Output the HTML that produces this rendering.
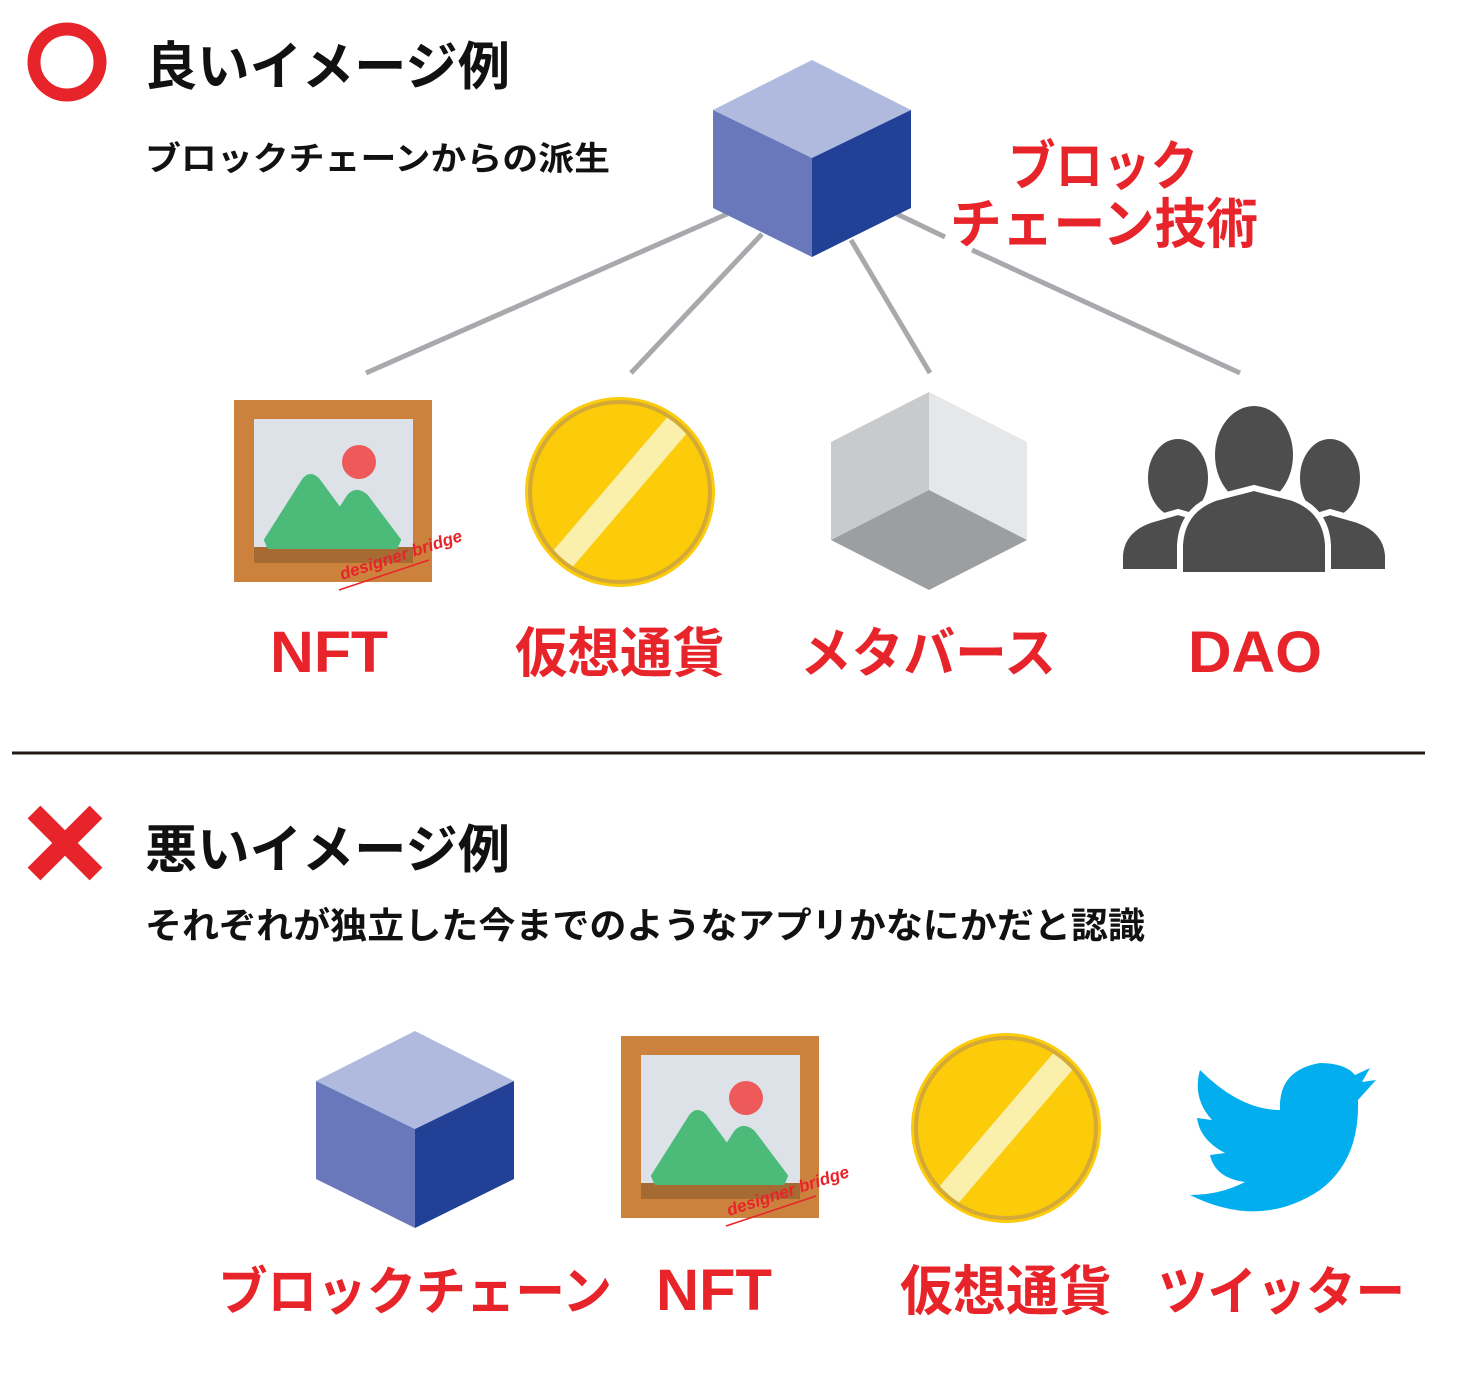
<!DOCTYPE html>
<html><head><meta charset="utf-8"><style>
html,body{margin:0;padding:0;background:#fff}
svg{display:block}
text{font-family:"Liberation Sans","Noto Sans CJK JP",sans-serif;font-weight:bold}
</style></head><body>
<svg width="1472" height="1388" viewBox="0 0 1472 1388" xmlns="http://www.w3.org/2000/svg">
<defs>
<g id="cube">
<polygon points="0,0 -99,50 0,98 99,50" fill="#b0bade"/>
<polygon points="-99,50 0,98 0,197 -99,148" fill="#6878bb"/>
<polygon points="99,50 0,98 0,197 99,148" fill="#224196"/>
</g>
<g id="frame">
<rect x="0" y="0" width="198" height="182" fill="#cc813c"/>
<rect x="20" y="19" width="159" height="129" fill="#dde2e8"/>
<rect x="20" y="147" width="159" height="16" fill="#a56b33"/>
<circle cx="125" cy="62" r="17" fill="#ee5a5a"/>
<path d="M35,147 L32,140 L70,80 Q76,72 84,80 L106,110 L115,96 Q122,88 132,96 L165,140 L162,147 Z" fill="#4cbb7a" stroke="#4cbb7a" stroke-width="4" stroke-linejoin="round"/>
<text x="108" y="180" font-size="17" fill="#e8242b" font-style="italic" font-weight="normal" font-family="Liberation Serif,serif" transform="rotate(-18 108 180)">designer bridge</text>
<line x1="105" y1="190" x2="195" y2="160" stroke="#e8242b" stroke-width="1.5"/>
</g>
<g id="coin">
<circle cx="0" cy="0" r="95" fill="#fccb0a"/>
<clipPath id="cc"><circle cx="0" cy="0" r="92"/></clipPath>
<polygon points="50,-78 68,-60 -50,78 -68,60" fill="#faefab" clip-path="url(#cc)"/>
<circle cx="0" cy="0" r="90" fill="none" stroke="#d4a935" stroke-width="4"/>
</g>
</defs>

<circle cx="67" cy="62" r="33" fill="none" stroke="#e8242b" stroke-width="13"/>
<text x="145" y="85" font-size="52" fill="#111" textLength="365" lengthAdjust="spacingAndGlyphs">良いイメージ例</text>
<text x="145" y="170" font-size="33" fill="#111" textLength="465" lengthAdjust="spacingAndGlyphs">ブロックチェーンからの派生</text>

<g stroke="#a7a9ac" stroke-width="5">
<line x1="727" y1="214" x2="366" y2="373"/>
<line x1="762" y1="234" x2="631" y2="373"/>
<line x1="851" y1="240" x2="930" y2="373"/>
<line x1="897" y1="214" x2="945" y2="237"/>
<line x1="972" y1="250" x2="1240" y2="373"/>
</g>
<use href="#cube" x="812" y="60"/>
<text x="1008" y="185" font-size="54" fill="#e8242b" textLength="190" lengthAdjust="spacingAndGlyphs">ブロック</text>
<text x="950" y="243" font-size="54" fill="#e8242b" textLength="308" lengthAdjust="spacingAndGlyphs">チェーン技術</text>

<use href="#frame" x="234" y="400"/>
<use href="#coin" x="620" y="492"/>
<polygon points="929,392 831,442 831,540 929,490" fill="#c9cacc"/>
<polygon points="929,392 1027,442 1027,540 929,490" fill="#e6e7e8"/>
<polygon points="831,540 929,490 1027,540 929,590" fill="#9d9ea0"/>

<g fill="#4d4d4d" stroke="#fff" stroke-width="6">
<ellipse cx="1178" cy="478" rx="33" ry="42"/>
<path d="M1120,572 L1120,555 Q1122,530 1150,520 L1178,512 L1206,520 Q1230,530 1234,555 L1234,572 Z"/>
<ellipse cx="1330" cy="478" rx="33" ry="42"/>
<path d="M1276,572 L1276,555 Q1280,530 1304,520 L1330,512 L1358,520 Q1386,530 1388,555 L1388,572 Z"/>
<ellipse cx="1254" cy="455" rx="42" ry="52"/>
<path d="M1180,575 L1180,545 Q1182,510 1215,498 L1254,488 L1293,498 Q1326,510 1328,545 L1328,575 Z"/>
</g>

<text x="270" y="672" font-size="58" fill="#e8242b" textLength="118" lengthAdjust="spacingAndGlyphs">NFT</text>
<text x="515" y="672" font-size="54" fill="#e8242b" textLength="210" lengthAdjust="spacingAndGlyphs">仮想通貨</text>
<text x="800" y="672" font-size="54" fill="#e8242b" textLength="256" lengthAdjust="spacingAndGlyphs">メタバース</text>
<text x="1188" y="672" font-size="58" fill="#e8242b" textLength="134" lengthAdjust="spacingAndGlyphs">DAO</text>

<line x1="12" y1="753" x2="1425" y2="753" stroke="#231815" stroke-width="3"/>

<g stroke="#e8242b" stroke-width="18">
<line x1="34" y1="812" x2="96" y2="874"/>
<line x1="96" y1="812" x2="34" y2="874"/>
</g>
<text x="145" y="868" font-size="52" fill="#111" textLength="365" lengthAdjust="spacingAndGlyphs">悪いイメージ例</text>
<text x="145" y="938" font-size="36" fill="#111" textLength="1000" lengthAdjust="spacingAndGlyphs">それぞれが独立した今までのようなアプリかなにかだと認識</text>

<use href="#cube" x="415" y="1031"/>
<use href="#frame" x="621" y="1036"/>
<use href="#coin" x="1006" y="1128"/>
<path d="M1200,1070 Q1240,1110 1280,1110 Q1278,1070 1320,1063 Q1345,1063 1355,1075 L1370,1068 L1362,1082 L1376,1080 L1358,1100 Q1360,1160 1320,1190 Q1260,1230 1190,1195 Q1220,1195 1245,1182 Q1215,1178 1210,1155 L1225,1153 Q1200,1140 1197,1118 L1212,1120 Q1192,1098 1200,1070 Z" fill="#03aeef"/>

<text x="218" y="1310" font-size="52" fill="#e8242b" textLength="394" lengthAdjust="spacingAndGlyphs">ブロックチェーン</text>
<text x="656" y="1310" font-size="58" fill="#e8242b" textLength="116" lengthAdjust="spacingAndGlyphs">NFT</text>
<text x="900" y="1310" font-size="54" fill="#e8242b" textLength="212" lengthAdjust="spacingAndGlyphs">仮想通貨</text>
<text x="1158" y="1310" font-size="52" fill="#e8242b" textLength="247" lengthAdjust="spacingAndGlyphs">ツイッター</text>
</svg>
</body></html>
